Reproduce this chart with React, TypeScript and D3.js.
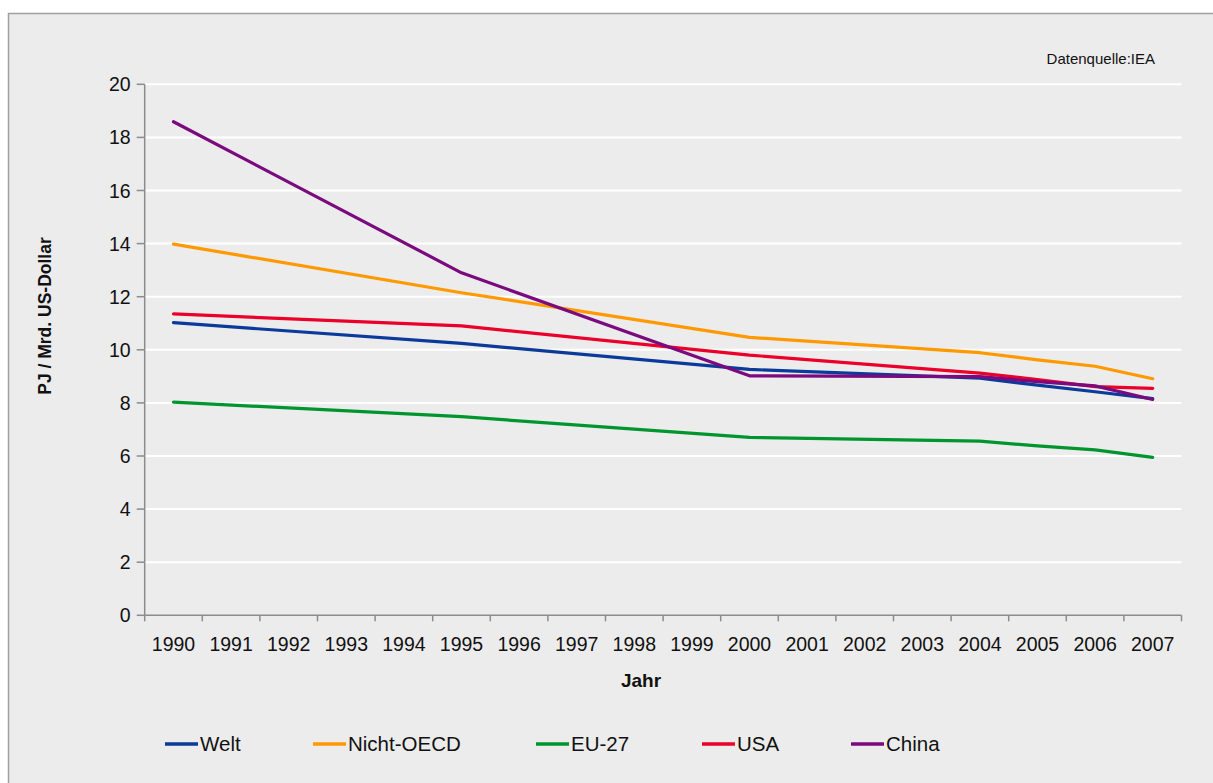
import React from 'react';
import * as d3 from 'd3';

const years = ['1990', '1991', '1992', '1993', '1994', '1995', '1996', '1997', '1998', '1999',
  '2000', '2001', '2002', '2003', '2004', '2005', '2006', '2007'];

// null = no value for that year, the line is drawn straight across
const welt = [11.02, null, null, null, null, 10.24, null, null, null, null, 9.26, null, null, null, 8.93, 8.67, 8.42, 8.16];
const nichtOecd = [13.98, null, null, null, null, 12.15, null, null, null, null, 10.47, null, null, null, 9.89, 9.62, 9.38, 8.91];
const eu27 = [8.03, null, null, null, null, 7.48, null, null, null, null, 6.7, null, null, null, 6.56, 6.38, 6.23, 5.95];
const usa = [11.35, null, null, null, null, 10.9, null, null, null, null, 9.8, null, null, null, 9.12, 8.88, 8.61, 8.55];
const china = [18.59, null, null, null, null, 12.9, null, null, null, null, 9.02, null, null, null, 8.99, 8.8, 8.64, 8.13];

const seriesNames = ['Welt', 'Nicht-OECD', 'EU-27', 'USA', 'China'];
const seriesColors = ['#0a3a9a', '#ff9900', '#00952e', '#ea0029', '#7a0a7e'];
const seriesData = [welt, nichtOecd, eu27, usa, china];

const yTicks = [0, 2, 4, 6, 8, 10, 12, 14, 16, 18, 20];

const W = 1213;
const H = 783;
const font = '"Liberation Sans", Arial, sans-serif';

export default function App() {
  const left = 144.7;
  const right = 1181.5;
  const top = 84.3;
  const bottom = 615.3;

  const x = d3.scaleBand<string>().domain(years).range([left, right]);
  const y = d3.scaleLinear().domain([0, 20]).range([bottom, top]);

  const line = d3.line<{ yr: string; v: number }>()
    .x(d => (x(d.yr) ?? 0) + x.bandwidth() / 2)
    .y(d => y(d.v));

  const legendX = [165, 313, 536, 702, 851];

  return (
    <svg width={W} height={H} style={{ position: 'absolute', left: 0, top: 0, display: 'block' }}>
      <rect x={0} y={0} width={W} height={H} fill="#ffffff" />
      <rect x={8.5} y={13.5} width={W + 20} height={H + 20} fill="#ececec" stroke="#a0a0a0" strokeWidth={1.5} />

      <text x={1155} y={64} textAnchor="end" fontFamily={font} fontSize={15} fill="#111">Datenquelle:IEA</text>

      {/* grid */}
      {yTicks.filter(t => t > 0).map(t => (
        <line key={t} x1={left} x2={right} y1={y(t)} y2={y(t)} stroke="#ffffff" strokeWidth={2} />
      ))}

      {/* y axis */}
      <line x1={left} x2={left} y1={top} y2={bottom} stroke="#8c8c8c" strokeWidth={1.5} />
      {yTicks.map(t => (
        <g key={t}>
          <line x1={left - 8} x2={left} y1={y(t)} y2={y(t)} stroke="#8c8c8c" strokeWidth={1.5} />
          <text x={left - 14} y={y(t)} dy="0.36em" textAnchor="end" fontFamily={font} fontSize={19.5} fill="#111">{t}</text>
        </g>
      ))}

      {/* x axis */}
      <line x1={left} x2={right} y1={bottom} y2={bottom} stroke="#8c8c8c" strokeWidth={1.5} />
      {years.map((yr, i) => (
        <g key={yr}>
          <line x1={(x(yr) ?? 0)} x2={(x(yr) ?? 0)} y1={bottom} y2={bottom + 6} stroke="#8c8c8c" strokeWidth={1.5} />
          {i === years.length - 1 && (
            <line x1={right} x2={right} y1={bottom} y2={bottom + 6} stroke="#8c8c8c" strokeWidth={1.5} />
          )}
          <text x={(x(yr) ?? 0) + x.bandwidth() / 2} y={651} textAnchor="middle" fontFamily={font} fontSize={19.5} fill="#111">{yr}</text>
        </g>
      ))}

      <text x={641} y={687} textAnchor="middle" fontFamily={font} fontSize={19} fontWeight="bold" fill="#111">Jahr</text>
      <text transform={`translate(51,316) rotate(-90)`} textAnchor="middle" fontFamily={font} fontSize={17.5} fontWeight="bold" fill="#111">PJ / Mrd. US-Dollar</text>

      {/* lines */}
      {seriesData.map((vals, si) => {
        const pts = years
          .map((yr, i) => ({ yr, v: vals[i] }))
          .filter(p => p.v !== null) as { yr: string; v: number }[];
        return (
          <path key={seriesNames[si]} d={line(pts) ?? ''} fill="none" stroke={seriesColors[si]}
            strokeWidth={3.2} strokeLinejoin="round" strokeLinecap="round" />
        );
      })}

      {/* legend */}
      {seriesNames.map((name, i) => (
        <g key={name}>
          <line x1={legendX[i]} x2={legendX[i] + 33} y1={744} y2={744} stroke={seriesColors[i]} strokeWidth={3.5} />
          <text x={legendX[i] + 35} y={744} dy="0.36em" fontFamily={font} fontSize={20.5} fill="#111">{name}</text>
        </g>
      ))}
    </svg>
  );
}
